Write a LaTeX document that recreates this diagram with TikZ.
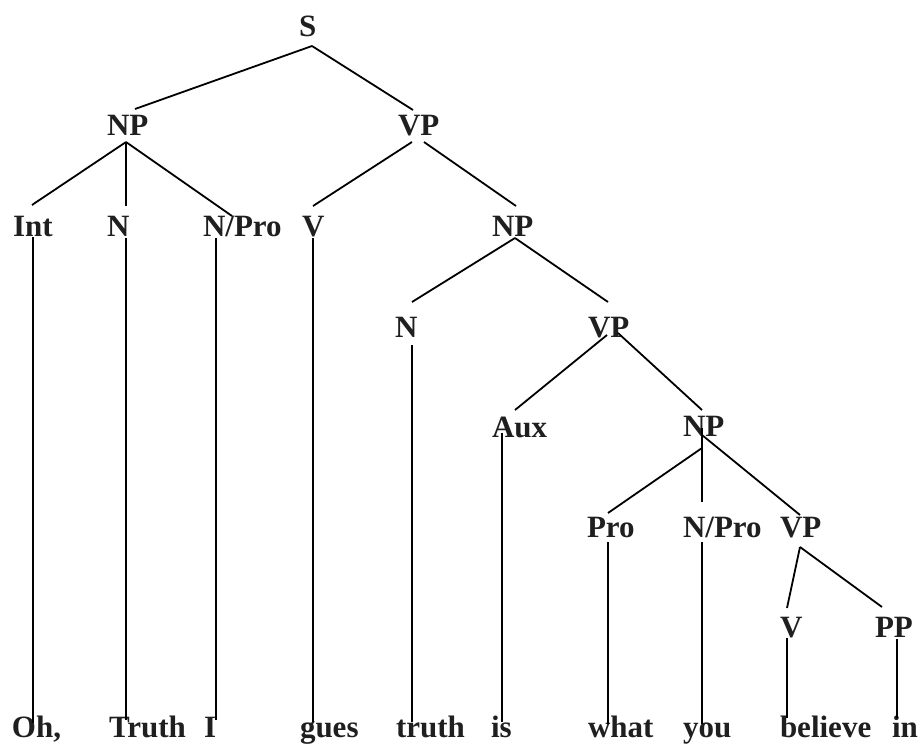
\documentclass[tikz,border=0pt]{standalone}
\usepackage{fontspec}
\setmainfont{Liberation Serif}
\begin{document}
\begin{tikzpicture}[x=1pt,y=-1pt,
  lbl/.style={anchor=base west,inner sep=0pt,outer sep=0pt,text=black!88,font=\fontsize{31}{31}\selectfont\bfseries},
  edge/.style={line width=1.8pt,black}]
\useasboundingbox (0,0) rectangle (923,745);
% labels
\node[lbl] (S) at (299,36) {S};
\node[lbl] (NPa) at (107,135) {NP};
\node[lbl] (VPa) at (398,135) {VP};
\node[lbl] (Int) at (13,236) {Int};
\node[lbl] (Na) at (107,236) {N};
\node[lbl] (NProa) at (203,236) {N/Pro};
\node[lbl] (Va) at (302,236) {V};
\node[lbl] (NPb) at (492,236) {NP};
\node[lbl] (Nb) at (395,337) {N};
\node[lbl] (VPb) at (588,337) {VP};
\node[lbl] (Aux) at (492,437) {Aux};
\node[lbl] (NPc) at (683,436) {NP};
\node[lbl] (Pro) at (587,537) {Pro};
\node[lbl] (NProb) at (683,537) {N/Pro};
\node[lbl] (VPc) at (780,537) {VP};
\node[lbl] (Vb) at (780,637) {V};
\node[lbl] (PP) at (875,637) {PP};
% words
\node[lbl] (w1) at (12,737) {Oh,};
\node[lbl] (w2) at (109,737) {Truth};
\node[lbl] (w3) at (204,737) {I};
\node[lbl] (w4) at (300,737) {gues};
\node[lbl] (w5) at (396,737) {truth};
\node[lbl] (w6) at (491,737) {is};
\node[lbl] (w7) at (588,737) {what};
\node[lbl] (w8) at (683,737) {you};
\node[lbl] (w9) at (780,737) {believe};
\node[lbl] (w10) at (892,737) {in};
% connector end points
\coordinate (S-b) at (312,46);
\coordinate (NPa-t) at (135,109);
\coordinate (VPa-t) at (413,110);
\coordinate (NPa-b) at (126,142);
\coordinate (Int-t) at (32,205);
\coordinate (Na-t) at (126,206);
\coordinate (NProa-t) at (232,216);
\coordinate (VPa-bl) at (412,142);
\coordinate (VPa-br) at (424,142);
\coordinate (Va-t) at (313,206);
\coordinate (NPb-t) at (516,206);
\coordinate (Int-b) at (33,237);
\coordinate (w1-t) at (33,723);
\coordinate (Na-b) at (126,238);
\coordinate (w2-t) at (126,720);
\coordinate (NProa-b) at (216,238);
\coordinate (w3-t) at (216,720);
\coordinate (Va-b) at (313,238);
\coordinate (w4-t) at (313,722);
\coordinate (NPb-b) at (515,238);
\coordinate (Nb-t) at (412,302);
\coordinate (VPb-t) at (608,302);
\coordinate (Nb-b) at (412,345);
\coordinate (w5-t) at (412,722);
\coordinate (VPb-bl) at (607,335);
\coordinate (VPb-br) at (618,333);
\coordinate (Aux-t) at (515,410);
\coordinate (NPc-t) at (702,410);
\coordinate (Aux-b) at (502,433);
\coordinate (w6-t) at (502,722);
\coordinate (NPc-bl) at (702,448);
\coordinate (NPc-bm) at (702,428);
\coordinate (NPc-br) at (702,435);
\coordinate (Pro-t) at (608,513);
\coordinate (NProb-t) at (702,502);
\coordinate (VPc-t) at (800,515);
\coordinate (Pro-b) at (608,542);
\coordinate (w7-t) at (608,724);
\coordinate (NProb-b) at (702,542);
\coordinate (w8-t) at (702,724);
\coordinate (VPc-b) at (800,547);
\coordinate (Vb-t) at (787,608);
\coordinate (PP-t) at (882,607);
\coordinate (Vb-b) at (787,638);
\coordinate (w9-t) at (787,718);
\coordinate (PP-b) at (897,639);
\coordinate (w10-t) at (897,718);
% connectors
\draw[edge] (S-b) -- (NPa-t);
\draw[edge] (S-b) -- (VPa-t);
\draw[edge] (NPa-b) -- (Int-t);
\draw[edge] (NPa-b) -- (Na-t);
\draw[edge] (NPa-b) -- (NProa-t);
\draw[edge] (VPa-bl) -- (Va-t);
\draw[edge] (VPa-br) -- (NPb-t);
\draw[edge] (Int-b) -- (w1-t);
\draw[edge] (Na-b) -- (w2-t);
\draw[edge] (NProa-b) -- (w3-t);
\draw[edge] (Va-b) -- (w4-t);
\draw[edge] (NPb-b) -- (Nb-t);
\draw[edge] (NPb-b) -- (VPb-t);
\draw[edge] (Nb-b) -- (w5-t);
\draw[edge] (VPb-bl) -- (Aux-t);
\draw[edge] (VPb-br) -- (NPc-t);
\draw[edge] (Aux-b) -- (w6-t);
\draw[edge] (NPc-bl) -- (Pro-t);
\draw[edge] (NPc-bm) -- (NProb-t);
\draw[edge] (NPc-br) -- (VPc-t);
\draw[edge] (Pro-b) -- (w7-t);
\draw[edge] (NProb-b) -- (w8-t);
\draw[edge] (VPc-b) -- (Vb-t);
\draw[edge] (VPc-b) -- (PP-t);
\draw[edge] (Vb-b) -- (w9-t);
\draw[edge] (PP-b) -- (w10-t);
\end{tikzpicture}
\end{document}
